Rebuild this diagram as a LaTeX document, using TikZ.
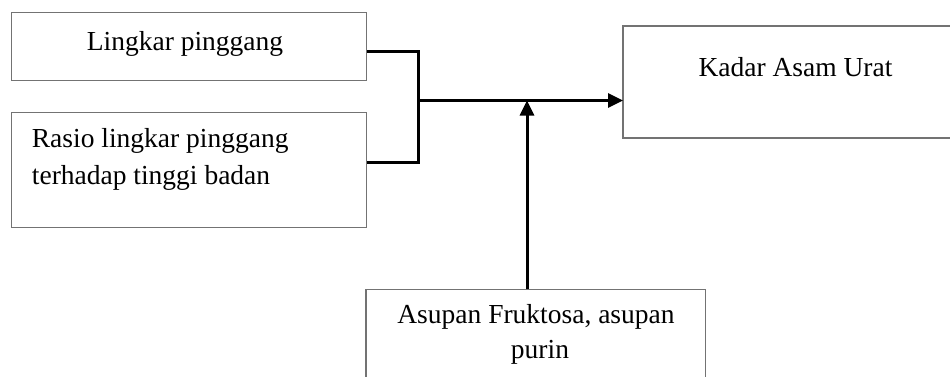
\documentclass[tikz,border=0pt]{standalone}
\usepackage{fontspec}
\setmainfont{Liberation Serif}
\usetikzlibrary{arrows.meta,calc}
\tikzset{
  boxframe/.style={draw=black!55, line width=1.1pt, inner sep=0pt},
  lbl/.style={inner sep=0pt, anchor=base, font=\fontsize{27.5}{33}\selectfont},
  conn/.style={draw=black, line width=3pt},
  arr/.style={conn, -{Triangle[length=15pt,width=14pt]}}
}
\begin{document}
\begin{tikzpicture}[x=1pt,y=-1pt]
\useasboundingbox (0,0) rectangle (950,376);
% boxes
\draw[boxframe] (11.7,12.3) rectangle (366.7,80.7);
\draw[boxframe] (11.7,112.3) rectangle (366.7,227.7);
\draw[boxframe] (623,26) rectangle (975,138);
\draw[boxframe] (366,289.3) rectangle (705.7,400);
% named box nodes (helpers with exact extents)
\node[inner sep=0pt, minimum width=355pt, minimum height=68.4pt, anchor=north west] (b1) at (11.7,12.3) {};
\node[inner sep=0pt, minimum width=355pt, minimum height=115.4pt, anchor=north west] (b2) at (11.7,112.3) {};
\node[inner sep=0pt, minimum width=352pt, minimum height=112pt, anchor=north west] (k) at (623,26) {};
\node[inner sep=0pt, minimum width=339.7pt, minimum height=110pt, anchor=north west] (f) at (366,289.3) {};
% labels
\node[lbl] (t1) at (185,50) {Lingkar pinggang};
\node[lbl, anchor=base west] (t2a) at (31.7,147.7) {Rasio lingkar pinggang};
\node[lbl, anchor=base west] (t2b) at (31.7,184.3) {terhadap tinggi badan};
\node[lbl] (tk) at (795.5,76.7) {Kadar Asam Urat};
\node[lbl] (tfa) at (536,323.3) {Asupan Fruktosa, asupan};
\node[lbl] (tfb) at (540,358) {purin};
% connectors
\coordinate (o1) at (b1.east |- 0,51.7);
\coordinate (o2) at (b2.east |- 0,162.7);
\coordinate (jt) at (418.3,51.7);
\coordinate (jb) at (418.3,162.7);
\coordinate (j) at (418.3,100.5);
\coordinate (m) at (527,100.5);
\draw[conn] (o1) -- (jt) -- (jb) -- (o2);
\draw[arr] (j) -- (k.west |- j);
\draw[arr] (f.north -| m) -- (m);
\end{tikzpicture}
\end{document}
